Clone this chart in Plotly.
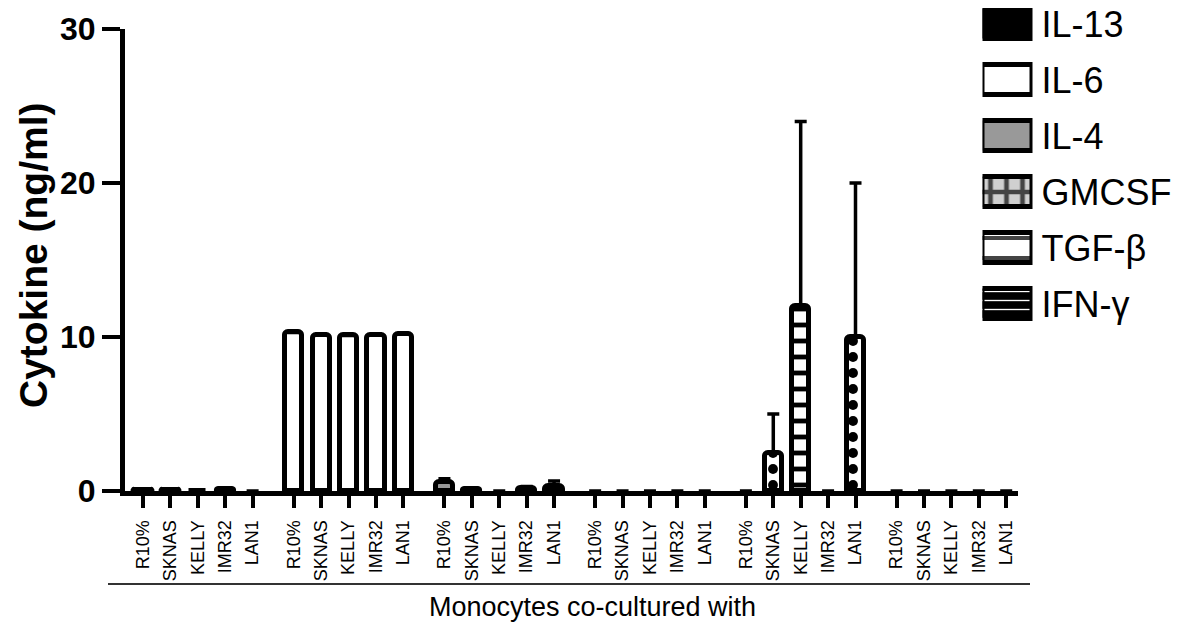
import plotly.graph_objects as go

# ---- data ----
samples = ["R10%", "SKNAS", "KELLY", "IMR32", "LAN1"]
series = ["IL-13", "IL-6", "IL-4", "GMCSF", "TGF-β", "IFN-γ"]
il13 = [0.05, 0.08, 0.03, 0.12, 0.0]
il13_err = [0.0, 0.0, 0.0, 0.0, 0.0]
il6 = [10.3, 10.15, 10.1, 10.15, 10.2]
il6_err = [0.05, 0.05, 0.05, 0.05, 0.05]
il4 = [0.6, 0.1, 0.0, 0.2, 0.35]
il4_err = [0.2, 0.05, 0.0, 0.1, 0.3]
gmcsf = [0.0, 0.0, 0.0, 0.0, 0.0]
gmcsf_err = [0.0, 0.0, 0.0, 0.0, 0.0]
tgfb = [0.0, 2.5, 12.0, 0.0, 10.0]
tgfb_err = [0.0, 2.5, 12.0, 0.0, 10.0]
ifng = [0.0, 0.0, 0.0, 0.0, 0.0]
ifng_err = [0.0, 0.0, 0.0, 0.0, 0.0]
y_ticks = [0, 10, 20, 30]

values = [il13, il6, il4, gmcsf, tgfb, ifng]
errors = [il13_err, il6_err, il4_err, gmcsf_err, tgfb_err, ifng_err]

# ---- styles ----
FONT = "Arial"
bg_cols = ["black", "white", "#999999", "#d0d0d0", "white", "black"]
fg_cols = ["black", "black", "black", "black", "black", "#b0b0b0"]
bar_shapes = ["", "", "", "+", ["", ".", "-", "", "."], "-"]
legend_shapes = ["", "", "", "+", "-", "-"]
pat_sizes = [8, 8, 8, 16, 16, 9]
legend_sizes = [8, 8, 8, 16, 20, 9]
pat_solid = [0.3, 0.3, 0.3, 0.5, 0.3, 0.15]
legend_solid = [0.3, 0.3, 0.3, 0.5, 0.2, 0.15]

GROUP_GAP = 5.5
fig = go.Figure()
all_x, all_text = [], []
for g, (name, vals, errs) in enumerate(zip(series, values, errors)):
    xs = [g * GROUP_GAP + i for i in range(len(samples))]
    all_x += xs
    all_text += samples
    fig.add_trace(go.Bar(
        x=xs, y=vals, width=0.63, name=name, showlegend=False,
        marker=dict(color=bg_cols[g],
                    line=dict(color="black", width=[5 if v > 0 else 0 for v in vals]),
                    pattern=dict(shape=bar_shapes[g], fgcolor=fg_cols[g], fgopacity=1,
                                 size=pat_sizes[g], solidity=pat_solid[g],
                                 fillmode="overlay"),
                    cornerradius=4),
        error_y=dict(type="data", array=errs, arrayminus=[0] * len(errs),
                     symmetric=False, color="black", thickness=3.5, width=6),
        xaxis="x", yaxis="y",
    ))

# custom legend drawn as horizontal bars on a second axis pair
fig.add_trace(go.Bar(
    x=[1] * len(series), y=list(range(len(series))), orientation="h", width=0.52,
    showlegend=False, hoverinfo="skip",
    marker=dict(color=bg_cols, line=dict(color="black", width=5),
                pattern=dict(shape=legend_shapes, fgcolor=fg_cols, fgopacity=1,
                             size=legend_sizes, solidity=legend_solid,
                             fillmode="overlay")),
    xaxis="x2", yaxis="y2",
))

# page body has an 8px default margin: size figure and positions accordingly
OFF = 8
W, H = 1186 - OFF, 627 - OFF
L, R, T = 125 - OFF, 0, 0
B = H - (491 - OFF)
PW, PH = W - L - R, H - T - B

def px_x(p):
    return (p - OFF - L) / PW

def px_y(p):
    return (H - B - (p - OFF)) / PH

fig.update_layout(
    width=W, height=H,
    margin=dict(l=L, r=R, t=T, b=B, autoexpand=False),
    plot_bgcolor="white", paper_bgcolor="white",
    bargap=0, barmode="overlay",
    font=dict(family=FONT, color="black"),
    xaxis=dict(
        domain=[0, px_x(1018)], range=[-0.657, 31.93],
        tickvals=all_x, ticktext=all_text, tickangle=-90,
        tickfont=dict(size=18, family=FONT, color="black"),
        showline=True, linecolor="black", linewidth=5,
        ticks="outside", ticklen=12, tickwidth=4, tickcolor="black",
        showgrid=False, zeroline=False, ticklabelstandoff=5, automargin=False,
    ),
    yaxis=dict(
        domain=[0, px_y(29)], range=[0, 30], tickvals=y_ticks,
        tickfont=dict(size=32, family=FONT, color="black", weight="bold"),
        showline=True, linecolor="black", linewidth=5,
        ticks="outside", ticklen=18, tickwidth=4, tickcolor="black",
        showgrid=False, zeroline=False, automargin=False,
    ),
    xaxis2=dict(domain=[px_x(982.5), px_x(1032.5)], range=[0, 1], anchor="y2",
                visible=False, fixedrange=True, automargin=False),
    yaxis2=dict(domain=[px_y(332), 1], range=[5.5, (OFF - 24) / 56], anchor="x2",
                side="right",
                tickvals=list(range(len(series))), ticktext=series,
                tickfont=dict(size=36, family=FONT, color="black"),
                showline=False, showgrid=False, zeroline=False, ticks="",
                ticklabelstandoff=8, ticklabeloverflow="allow",
                fixedrange=True, automargin=False),
    shapes=[dict(type="line", xref="paper", yref="paper",
                 x0=px_x(108), x1=px_x(1030), y0=px_y(584), y1=px_y(584),
                 line=dict(color="#333333", width=2))],
    annotations=[
        dict(text="Monocytes co-cultured with", xref="paper", yref="paper",
             x=px_x(592), y=px_y(607), xanchor="center", yanchor="middle",
             showarrow=False, font=dict(size=27, family=FONT, color="black")),
        dict(text="<b>Cytokine (ng/ml)</b>", xref="paper", yref="paper",
             x=px_x(33), y=px_y(255), xanchor="center", yanchor="middle",
             textangle=-90, showarrow=False,
             font=dict(size=39, family=FONT, color="black")),
    ],
)

fig.write_html("out.html")
